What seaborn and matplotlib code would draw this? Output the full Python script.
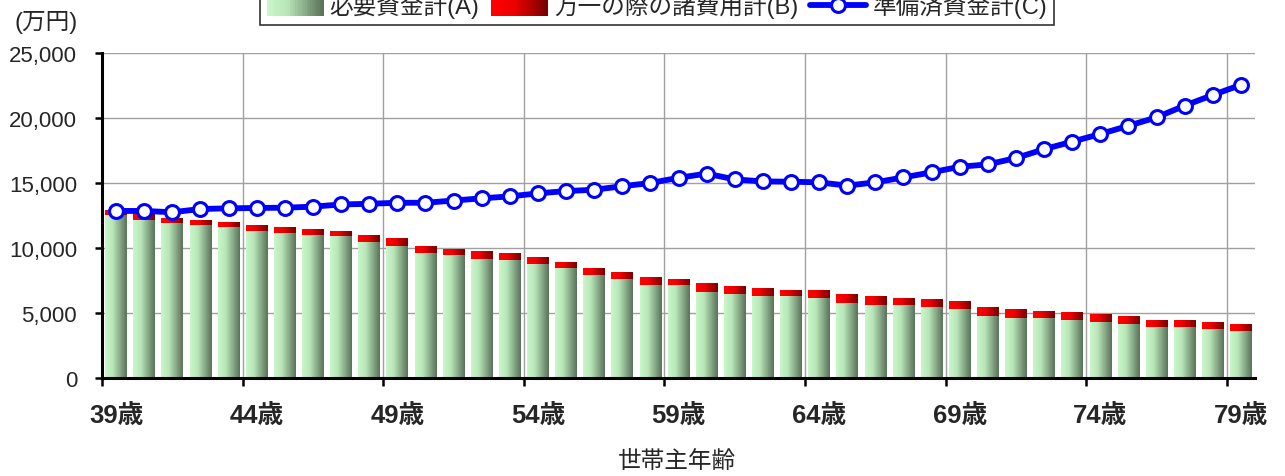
import numpy as np
import pandas as pd
import matplotlib
matplotlib.use('Agg')
import matplotlib.pyplot as plt
import seaborn as sns
from matplotlib.colors import LinearSegmentedColormap
from matplotlib.patches import Patch, Rectangle
from matplotlib.lines import Line2D
from matplotlib.legend_handler import HandlerBase

sns.set_theme(style='white')
plt.rcParams['font.family'] = ['Liberation Sans', 'Noto Sans CJK JP']

# data (万円)
ages = list(range(39, 80))
age_labels = [f'{a}歳' for a in ages]
need_A = [12500, 12150, 11850, 11700, 11550, 11300, 11150, 11000, 10850, 10450,
          10150, 9600, 9400, 9150, 9000, 8750, 8400, 7850, 7550, 7150,
          7100, 6600, 6450, 6250, 6250, 6150, 5750, 5600, 5550, 5400,
          5250, 4750, 4600, 4550, 4400, 4250, 4100, 3850, 3850, 3700, 3550]
cost_B = [420, 500, 450, 450, 450, 450, 450, 450, 450, 550,
          550, 550, 450, 550, 550, 500, 500, 550, 550, 600,
          500, 650, 550, 600, 500, 550, 650, 650, 600, 600,
          600, 650, 650, 600, 600, 600, 600, 600, 600, 600, 600]
ready_C = [12850, 12850, 12750, 13000, 13050, 13080, 13100, 13180, 13350, 13400,
           13480, 13480, 13650, 13820, 13970, 14200, 14380, 14480, 14750, 15000,
           15400, 15720, 15280, 15120, 15100, 15050, 14800, 15050, 15430, 15820,
           16250, 16430, 16920, 17600, 18180, 18770, 19400, 20050, 20950, 21770, 22550]

names = ['必要資金計(A)', '万一の際の諸費用計(B)', '準備済資金計(C)']

df = pd.DataFrame({'age': age_labels, 'A': need_A, 'B': cost_B, 'C': ready_C})
df['AB'] = df['A'] + df['B']

green_cm = LinearSegmentedColormap.from_list(
    'g', [(0, '#c9f7c9'), (0.35, '#b9e6b9'), (1, '#5a735a')])
red_cm = LinearSegmentedColormap.from_list(
    'r', [(0, '#ff0000'), (0.4, '#ee0000'), (1, '#780000')])

fig = plt.figure(figsize=(12.85, 4.77), dpi=100)
ax = fig.add_axes([102/1285, 98/477, 1153/1285, 325/477])

sns.barplot(data=df, x='age', y='AB', order=age_labels, color='red',
            width=0.77, ax=ax, saturation=1)
sns.barplot(data=df, x='age', y='A', order=age_labels, color='green',
            width=0.77, ax=ax, saturation=1)

# gradient fill for the bars
grad = np.linspace(0, 1, 64).reshape(1, -1)
n = len(ages)
for i, p in enumerate(ax.patches):
    x0, y0, w, h = p.get_x(), p.get_y(), p.get_width(), p.get_height()
    cm = red_cm if i < n else green_cm
    ax.imshow(grad, cmap=cm, extent=(x0, x0 + w, y0, y0 + h), aspect='auto',
              zorder=2 if i < n else 2.1, interpolation='bilinear')
    p.set_visible(False)

sns.lineplot(x=np.arange(n), y=df['C'], ax=ax, color='#0000ff', lw=4.2,
             marker='o', markersize=10, markerfacecolor='white',
             markeredgecolor='#0000ff', markeredgewidth=2.2, zorder=3)

ax.set_xlim(-0.5, n - 0.5)
ax.set_ylim(0, 25000)
ax.set_yticks(range(0, 25001, 5000))
ax.set_yticklabels([f'{v:,}' for v in range(0, 25001, 5000)], fontsize=16)
ax.tick_params(axis='y', length=5, width=1.8, pad=13, left=True, color='black')

# ticks/grid on category edges, labels at category centres
ax.set_xticks(np.arange(0, n, 5) - 0.5)
ax.set_xticklabels([])
ax.set_xticks(np.arange(0, n, 5), minor=True)
ax.set_xticklabels([age_labels[i] for i in range(0, n, 5)], minor=True,
                   fontsize=18.5, fontweight='bold')
ax.tick_params(axis='x', which='major', length=6, width=1.8, bottom=True,
               color='black')
ax.tick_params(axis='x', which='minor', length=0, pad=18)

ax.grid(True, which='major', color='#a0a0a0', lw=1)
ax.set_axisbelow(True)
ax.set_xlabel('')
ax.set_ylabel('')
for s in ['top', 'right']:
    ax.spines[s].set_visible(False)
for s in ['left', 'bottom']:
    ax.spines[s].set_color('black')
    ax.spines[s].set_linewidth(2.2)

fig.text(46/1285, 1 - 23/477, '(万円)', fontsize=17, va='center', ha='center')
fig.text(677/1285, 1 - 462/477, '世帯主年齢', fontsize=17, va='center', ha='center')


class GradHandler(HandlerBase):
    def __init__(self, cmap):
        super().__init__()
        self.cmap = cmap

    def create_artists(self, legend, orig_handle, xdescent, ydescent,
                       width, height, fontsize, trans):
        k = 30
        out = []
        for j in range(k):
            out.append(Rectangle((-xdescent + width * j / k, -ydescent - 2),
                                 width / k * 1.05, height + 4,
                                 facecolor=self.cmap(j / (k - 1)),
                                 edgecolor='none', transform=trans))
        return out


hA = Patch(label=names[0])
hB = Patch(label=names[1])
hC = Line2D([], [], color='#0000ff', lw=4.2, marker='o', markersize=10,
            markerfacecolor='white', markeredgecolor='#0000ff',
            markeredgewidth=2.2, label=names[2])
leg = fig.legend(handles=[hA, hB, hC], ncol=3, loc='lower center',
                 bbox_to_anchor=(657/1285, 1 - 26/477), fontsize=17,
                 frameon=True, fancybox=False, edgecolor='black',
                 handlelength=2.4, handletextpad=0.25, columnspacing=0.5,
                 borderpad=0.3, borderaxespad=0,
                 handler_map={hA: GradHandler(green_cm), hB: GradHandler(red_cm)})
leg.get_frame().set_linewidth(1.2)

fig.savefig('out.png', dpi=100)
